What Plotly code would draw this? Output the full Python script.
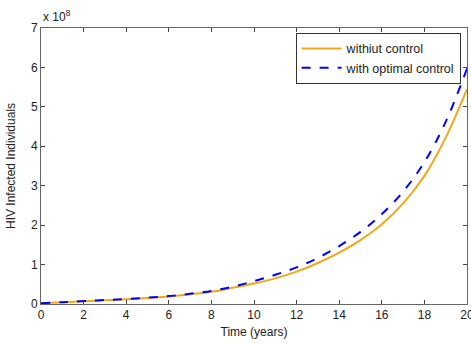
import plotly.graph_objects as go

time_years = list(range(0, 21))
without_control = [0.02, 0.045, 0.07, 0.095, 0.12, 0.15, 0.19, 0.245, 0.31, 0.41, 0.52,
                   0.65, 0.82, 1.04, 1.30, 1.62, 2.02, 2.55, 3.25, 4.22, 5.45]
with_optimal = [0.02, 0.045, 0.075, 0.10, 0.125, 0.16, 0.20, 0.26, 0.33, 0.44, 0.58,
                0.74, 0.93, 1.17, 1.47, 1.83, 2.28, 2.85, 3.60, 4.62, 5.97]
x_ticks = list(range(0, 21, 2))
y_ticks = list(range(0, 8))

font = dict(family="Liberation Sans, Arial, sans-serif", size=12, color="#222222")

fig = go.Figure()
fig.add_trace(go.Scatter(x=time_years, y=without_control, mode="lines",
                         name="withiut control", line=dict(color="#F0A818", width=2, shape="spline")))
fig.add_trace(go.Scatter(x=time_years, y=with_optimal, mode="lines",
                         name="with optimal control",
                         line=dict(color="#0000FF", width=2, dash="dash", shape="spline")))

axis_common = dict(showgrid=False, zeroline=False, showline=True, mirror="ticks",
                   linecolor="#666666", linewidth=1, ticks="inside", ticklen=4,
                   tickcolor="#444444", tickfont=font, ticklabeloverflow="allow")

fig.update_layout(
    width=471, height=344,
    margin=dict(l=41, r=4, t=28, b=40, autoexpand=False),
    paper_bgcolor="white", plot_bgcolor="white",
    font=font,
    xaxis=dict(range=[0, 20], tickvals=x_ticks,
               title=dict(text="Time (years)", font=font, standoff=6), **axis_common),
    yaxis=dict(range=[0, 7], tickvals=y_ticks,
               title=dict(text="HIV Infected Individuals", font=font, standoff=12), **axis_common),
    legend=dict(x=0.985, y=0.982, xanchor="right", yanchor="top",
                bgcolor="white", bordercolor="#333333", borderwidth=1,
                font=dict(family=font["family"], size=12.5, color="#222222"),
                tracegroupgap=0, itemwidth=40),
    showlegend=True,
)
fig.add_annotation(text="x 10<sup>8</sup>", xref="paper", yref="paper", x=0, y=1.0,
                   xanchor="left", yanchor="bottom", showarrow=False, font=font, yshift=2)

fig.write_html("out.html", config={"displayModeBar": False},
               post_script="document.body.style.margin='0';")
